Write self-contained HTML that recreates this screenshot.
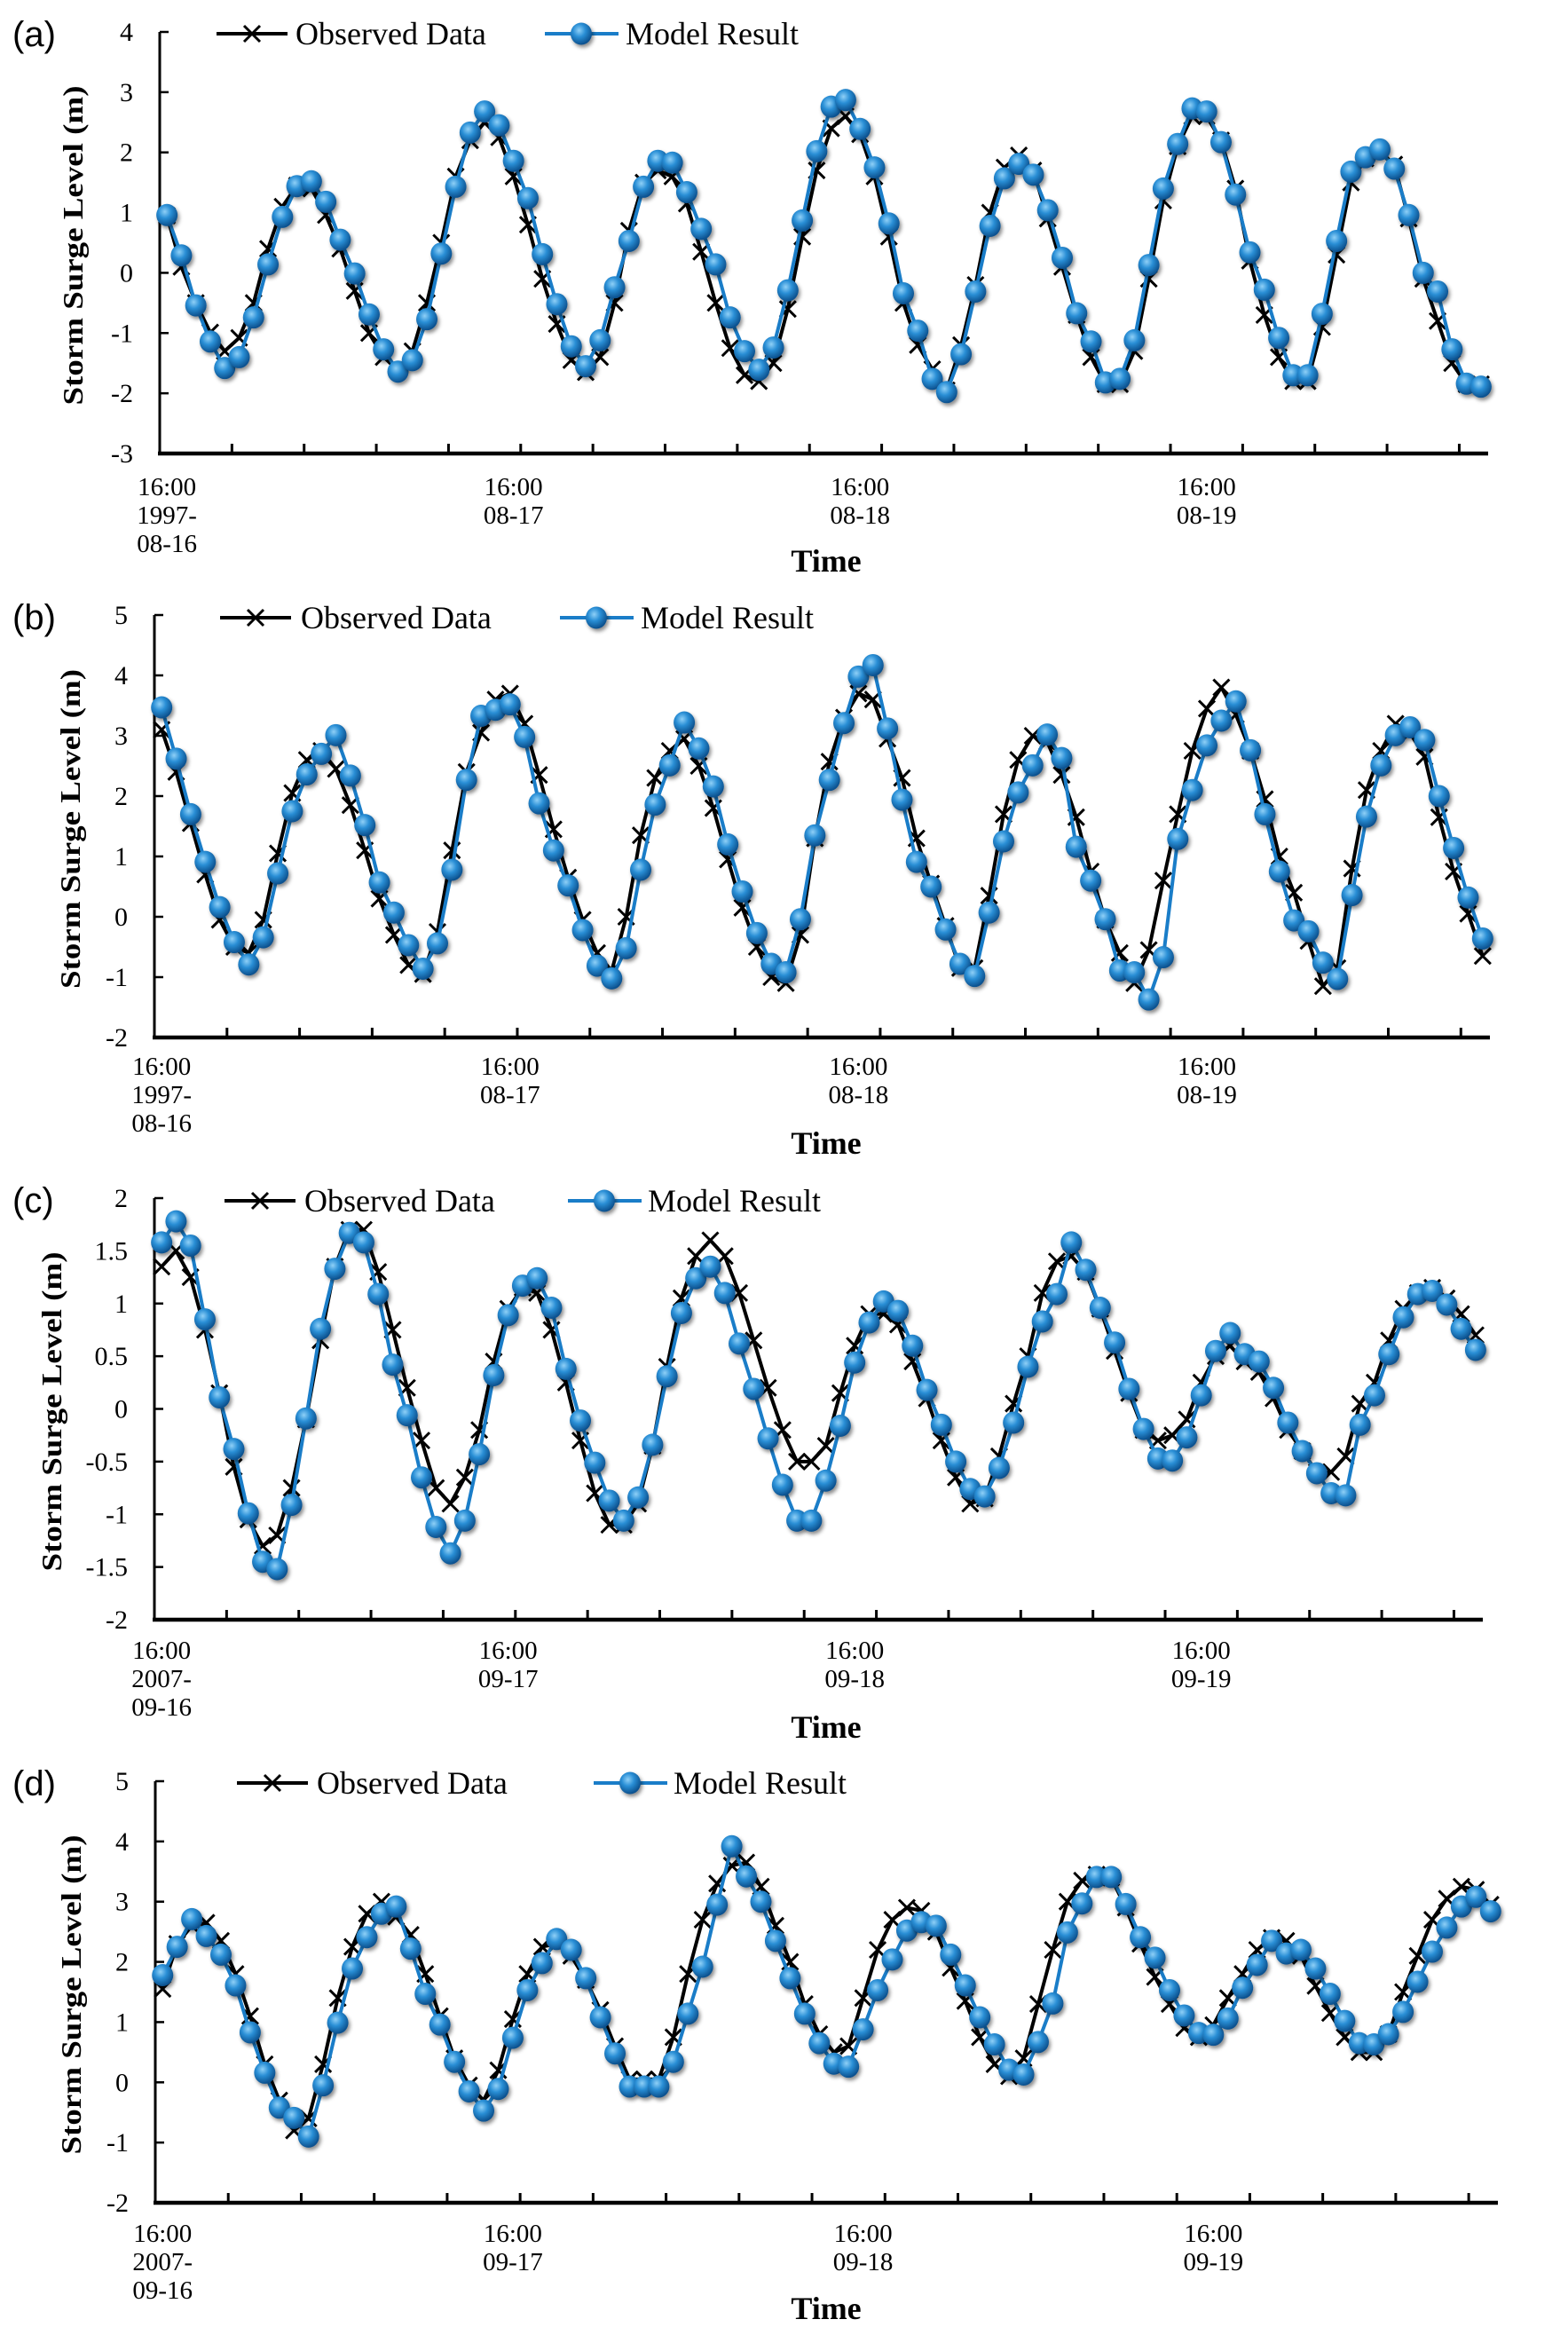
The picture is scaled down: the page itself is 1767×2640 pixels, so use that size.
<!DOCTYPE html>
<html><head><meta charset="utf-8"><title>Storm surge comparison</title>
<style>
html,body{margin:0;padding:0;background:#fff;}
svg{display:block;}
text{font-family:"Liberation Serif","Times New Roman",serif;fill:#000;}
</style></head>
<body>
<svg id="fig" xmlns="http://www.w3.org/2000/svg" width="1767" height="2640" viewBox="0 0 1767 2640">
<defs>
<radialGradient id="ball" cx="40%" cy="35%" r="65%">
<stop offset="0%" stop-color="#8fd0f7"/>
<stop offset="45%" stop-color="#2a8fd6"/>
<stop offset="100%" stop-color="#0b4f8c"/>
</radialGradient>
<filter id="shadow" x="-50%" y="-50%" width="200%" height="200%">
<feDropShadow dx="2" dy="3" stdDeviation="2" flood-color="#000" flood-opacity="0.45"/>
</filter>
</defs>
</svg>
<script>
// ---- data (hourly values, 92 per series) ----
const hourCount = 92;
const obsA = [0.95,0.1,-0.5,-0.99,-1.3,-1.08,-0.5,0.4,1.1,1.45,1.4,0.96,0.4,-0.3,-1.0,-1.4,-1.6,-1.3,-0.5,0.5,1.6,2.2,2.5,2.25,1.6,0.8,-0.1,-0.85,-1.45,-1.65,-1.4,-0.5,0.7,1.5,1.7,1.6,1.15,0.35,-0.5,-1.25,-1.7,-1.8,-1.5,-0.6,0.6,1.7,2.4,2.6,2.3,1.6,0.6,-0.5,-1.2,-1.6,-1.95,-1.2,-0.2,1.0,1.75,1.95,1.7,0.9,0.1,-0.7,-1.4,-1.85,-1.85,-1.3,-0.1,1.2,2.1,2.6,2.6,2.2,1.4,0.2,-0.7,-1.4,-1.8,-1.8,-0.9,0.3,1.5,1.9,2.0,1.8,0.9,-0.1,-0.8,-1.5,-1.85,-1.85];
const modA = [0.96,0.29,-0.54,-1.14,-1.58,-1.40,-0.74,0.14,0.93,1.44,1.52,1.18,0.55,-0.01,-0.69,-1.27,-1.64,-1.45,-0.77,0.32,1.43,2.33,2.68,2.45,1.86,1.24,0.31,-0.52,-1.22,-1.55,-1.12,-0.24,0.53,1.43,1.86,1.83,1.34,0.73,0.14,-0.74,-1.30,-1.61,-1.24,-0.29,0.87,2.02,2.76,2.87,2.39,1.75,0.82,-0.34,-0.96,-1.76,-1.98,-1.35,-0.31,0.78,1.57,1.81,1.63,1.04,0.25,-0.67,-1.14,-1.82,-1.76,-1.12,0.13,1.40,2.14,2.73,2.68,2.17,1.30,0.34,-0.28,-1.08,-1.70,-1.70,-0.68,0.53,1.68,1.92,2.05,1.73,0.96,0.00,-0.31,-1.27,-1.84,-1.89];
const obsB = [3.1,2.4,1.55,0.7,-0.05,-0.5,-0.6,-0.05,1.05,2.05,2.6,2.75,2.45,1.85,1.1,0.3,-0.3,-0.8,-0.95,-0.25,1.1,2.4,3.05,3.6,3.7,3.2,2.35,1.45,0.65,-0.05,-0.6,-0.9,0.0,1.35,2.3,2.75,2.95,2.5,1.8,0.95,0.15,-0.5,-1.0,-1.1,-0.3,1.3,2.57,3.3,3.7,3.6,2.95,2.3,1.3,0.55,-0.15,-0.85,-0.85,0.35,1.7,2.6,3.0,2.9,2.35,1.65,0.75,-0.05,-0.6,-1.1,-0.55,0.6,1.7,2.75,3.45,3.8,3.35,2.75,1.95,1.0,0.4,-0.4,-1.15,-0.85,0.8,2.1,2.75,3.2,3.05,2.65,1.65,0.75,0.05,-0.65];
const modB = [3.47,2.62,1.70,0.91,0.16,-0.42,-0.79,-0.34,0.72,1.75,2.36,2.70,3.01,2.34,1.52,0.57,0.07,-0.47,-0.86,-0.44,0.78,2.27,3.33,3.43,3.52,2.98,1.88,1.10,0.52,-0.22,-0.81,-1.02,-0.52,0.78,1.86,2.51,3.22,2.79,2.16,1.20,0.42,-0.27,-0.78,-0.92,-0.04,1.35,2.27,3.21,3.98,4.17,3.12,1.94,0.91,0.50,-0.21,-0.78,-0.98,0.07,1.25,2.06,2.51,3.02,2.63,1.16,0.60,-0.04,-0.89,-0.92,-1.37,-0.67,1.29,2.10,2.84,3.25,3.57,2.76,1.70,0.75,-0.06,-0.24,-0.76,-1.03,0.36,1.66,2.51,3.01,3.14,2.93,2.00,1.14,0.32,-0.36];
const obsC = [1.35,1.5,1.25,0.75,0.15,-0.55,-1.05,-1.3,-1.2,-0.75,-0.1,0.65,1.35,1.7,1.7,1.3,0.75,0.2,-0.3,-0.75,-0.9,-0.65,-0.2,0.45,0.95,1.15,1.1,0.75,0.25,-0.3,-0.8,-1.1,-1.1,-0.9,-0.35,0.4,1.05,1.45,1.6,1.45,1.1,0.65,0.2,-0.2,-0.5,-0.5,-0.35,0.15,0.6,0.9,0.9,0.8,0.45,0.1,-0.3,-0.65,-0.9,-0.85,-0.45,0.05,0.5,1.1,1.4,1.45,1.3,0.95,0.55,0.15,-0.2,-0.3,-0.25,-0.1,0.25,0.5,0.6,0.45,0.35,0.1,-0.2,-0.4,-0.6,-0.6,-0.45,0.05,0.25,0.65,0.95,1.1,1.15,1.05,0.9,0.7];
const modC = [1.58,1.78,1.55,0.85,0.11,-0.38,-0.99,-1.45,-1.52,-0.91,-0.09,0.76,1.33,1.67,1.58,1.09,0.42,-0.06,-0.65,-1.12,-1.37,-1.06,-0.43,0.32,0.89,1.17,1.24,0.96,0.38,-0.11,-0.51,-0.87,-1.06,-0.84,-0.34,0.31,0.91,1.24,1.35,1.10,0.62,0.19,-0.28,-0.72,-1.06,-1.06,-0.68,-0.16,0.44,0.82,1.02,0.93,0.60,0.18,-0.15,-0.50,-0.76,-0.83,-0.56,-0.13,0.40,0.83,1.09,1.58,1.32,0.96,0.63,0.19,-0.19,-0.47,-0.49,-0.27,0.13,0.55,0.72,0.52,0.45,0.20,-0.13,-0.40,-0.61,-0.80,-0.82,-0.15,0.13,0.52,0.87,1.09,1.12,0.99,0.76,0.56];
const obsD = [1.55,2.3,2.6,2.65,2.35,1.8,1.1,0.3,-0.3,-0.8,-0.6,0.3,1.4,2.25,2.8,3.0,2.75,2.45,1.8,1.1,0.4,-0.05,-0.3,0.2,1.05,1.8,2.25,2.3,2.1,1.7,1.2,0.6,0.05,0.05,0.05,0.75,1.8,2.7,3.3,3.6,3.65,3.25,2.6,2.0,1.3,0.8,0.5,0.6,1.4,2.2,2.7,2.9,2.85,2.5,1.9,1.35,0.75,0.3,0.1,0.4,1.3,2.2,3.0,3.35,3.45,3.4,2.9,2.3,1.75,1.3,0.9,0.75,0.95,1.4,1.8,2.2,2.4,2.35,2.1,1.6,1.15,0.75,0.5,0.5,0.8,1.5,2.1,2.7,3.05,3.25,3.2,2.95];
const modD = [1.78,2.25,2.71,2.43,2.12,1.61,0.83,0.16,-0.42,-0.59,-0.90,-0.05,0.99,1.89,2.41,2.80,2.92,2.22,1.47,0.96,0.34,-0.15,-0.47,-0.11,0.74,1.53,1.98,2.38,2.20,1.73,1.08,0.48,-0.07,-0.07,-0.07,0.34,1.14,1.92,2.95,3.92,3.42,3.00,2.35,1.73,1.14,0.65,0.31,0.26,0.88,1.53,2.04,2.52,2.66,2.60,2.12,1.61,1.08,0.63,0.21,0.13,0.67,1.31,2.49,2.97,3.41,3.41,2.96,2.41,2.07,1.53,1.11,0.82,0.79,1.06,1.57,1.95,2.35,2.14,2.20,1.89,1.47,1.02,0.65,0.63,0.80,1.17,1.67,2.17,2.57,2.92,3.08,2.84];
const yTicksA = [-3,-2,-1,0,1,2,3,4];
const yTicksB = [-2,-1,0,1,2,3,4,5];
const yTicksC = [-2,-1.5,-1,-0.5,0,0.5,1,1.5,2];
const yTicksD = [-2,-1,0,1,2,3,4,5];
const labelHours = [0,24,48,72];
const xLabels1997 = [["16:00","1997-","08-16"],["16:00","08-17"],["16:00","08-18"],["16:00","08-19"]];
const xLabels2007 = [["16:00","2007-","09-16"],["16:00","09-17"],["16:00","09-18"],["16:00","09-19"]];
const seriesNames = ["Observed Data","Model Result"];

const NS = "http://www.w3.org/2000/svg";
const svg = document.getElementById("fig");
function mk(tag, attrs, parent){
  const e = document.createElementNS(NS, tag);
  for (const k in attrs) e.setAttribute(k, attrs[k]);
  (parent||svg).appendChild(e);
  return e;
}
function xMark(g, cx, cy, s){
  const p = mk("path", {d:`M${cx-s},${cy-s}L${cx+s},${cy+s}M${cx-s},${cy+s}L${cx+s},${cy-s}`, stroke:"#000", "stroke-width":3, fill:"none"}, g);
  return p;
}

const panels = [
 {id:"a", x0:180, x1:1677, yTop:36, yBot:511, ticks:yTicksA, obs:obsA, mod:modA, labels:xLabels1997, lblY:558, timeY:644, legY:38, legB:244, legBT:333, legM:614, legMT:705, titleX:93},
 {id:"b", x0:174, x1:1679, yTop:693, yBot:1169, ticks:yTicksB, obs:obsB, mod:modB, labels:xLabels1997, lblY:1211, timeY:1300, legY:696, legB:248, legBT:339, legM:631, legMT:722, titleX:90},
 {id:"c", x0:174, x1:1671, yTop:1350, yBot:1825, ticks:yTicksC, obs:obsC, mod:modC, labels:xLabels2007, lblY:1869, timeY:1958, legY:1353, legB:253, legBT:343, legM:640, legMT:730, titleX:69},
 {id:"d", x0:175, x1:1688, yTop:2007, yBot:2482, ticks:yTicksD, obs:obsD, mod:modD, labels:xLabels2007, lblY:2526, timeY:2613, legY:2009, legB:267, legBT:357, legM:669, legMT:759, titleX:91}
];

panels.forEach(P => {
  const g = mk("g", {});
  
  
  const ymin = P.ticks[0], ymax = P.ticks[P.ticks.length-1];
  const cw = (P.x1 - P.x0) / hourCount;
  const xs = i => P.x0 + cw * (i + 0.5);
  const ys = v => P.yBot - (v - ymin) / (ymax - ymin) * (P.yBot - P.yTop);

  const pl = mk("text", {x:14, y:P.yTop + 16, "font-size":40, style:'font-family:"Liberation Sans",Arial,sans-serif'}, g);
  pl.textContent = "(" + P.id + ")";
  
  

  const yc = (P.yTop + P.yBot) / 2 + 3;
  const yt = mk("text", {x:0, y:0, "font-size":32, "font-weight":"bold", "text-anchor":"middle", transform:`translate(${P.titleX},${yc}) rotate(-90)`, textLength:360, lengthAdjust:"spacingAndGlyphs"}, g);
  yt.textContent = "Storm Surge Level (m)";
  
  

  const ya = mk("line", {x1:P.x0, y1:P.yTop, x2:P.x0, y2:P.yBot + 2, stroke:"#000", "stroke-width":3}, g);
  
  
  P.ticks.forEach(v => {
    const y = ys(v);
    const tk = mk("line", {x1:P.x0, y1:y, x2:P.x0 + 10, y2:y, stroke:"#000", "stroke-width":2.5}, g);
    
    
    const tl = mk("text", {x:P.x0 - 30, y:y + 10, "font-size":30, "text-anchor":"end"}, g);
    tl.textContent = String(v);
    
    
  });

  const xa = mk("line", {x1:P.x0 - 2, y1:P.yBot, x2:P.x1, y2:P.yBot, stroke:"#000", "stroke-width":4.5}, g);
  
  
  for (let k = 5; k < hourCount; k += 5) {
    const x = P.x0 + cw * k;
    const tk = mk("line", {x1:x, y1:P.yBot, x2:x, y2:P.yBot - 11, stroke:"#000", "stroke-width":3}, g);
    
    
  }
  labelHours.forEach((h, j) => {
    P.labels[j].forEach((ln, r) => {
      const t = mk("text", {x:xs(h), y:P.lblY + r * 32, "font-size":29, "text-anchor":"middle"}, g);
      t.textContent = ln;
      
      
    });
  });
  const tt = mk("text", {x:931, y:P.timeY, "font-size":36, "font-weight":"bold", "text-anchor":"middle"}, g);
  tt.textContent = "Time";
  
  

  const gObs = mk("g", {}, g);
  
  
  const ptsO = P.obs.map((v, i) => xs(i).toFixed(1) + "," + ys(v).toFixed(1)).join(" ");
  const lo = mk("polyline", {points:ptsO, fill:"none", stroke:"#000", "stroke-width":4, "stroke-linejoin":"round"}, gObs);
  
  
  P.obs.forEach((v, i) => {
    const m = xMark(gObs, xs(i), ys(v), 9);
    
    
  });

  const gMod = mk("g", {}, g);
  
  
  const ptsM = P.mod.map((v, i) => xs(i).toFixed(1) + "," + ys(v).toFixed(1)).join(" ");
  const lm = mk("polyline", {points:ptsM, fill:"none", stroke:"#1a7dc8", "stroke-width":4, "stroke-linejoin":"round"}, gMod);
  
  
  P.mod.forEach((v, i) => {
    const c = mk("ellipse", {cx:xs(i), cy:ys(v), rx:12, ry:12.5, fill:"url(#ball)", filter:"url(#shadow)"}, gMod);
    
    
  });

  const lg = mk("g", {}, g);
  
  
  const e1 = mk("g", {}, lg);
  
  
  mk("line", {x1:P.legB, y1:P.legY, x2:P.legB + 80, y2:P.legY, stroke:"#000", "stroke-width":4}, e1);
  xMark(e1, P.legB + 40, P.legY, 9);
  const t1 = mk("text", {x:P.legBT, y:P.legY + 12, "font-size":36}, e1);
  t1.textContent = seriesNames[0];
  const e2 = mk("g", {}, lg);
  
  
  mk("line", {x1:P.legM, y1:P.legY, x2:P.legM + 83, y2:P.legY, stroke:"#1a7dc8", "stroke-width":4}, e2);
  mk("ellipse", {cx:P.legM + 41, cy:P.legY, rx:12, ry:12.5, fill:"url(#ball)", filter:"url(#shadow)"}, e2);
  const t2 = mk("text", {x:P.legMT, y:P.legY + 12, "font-size":36}, e2);
  t2.textContent = seriesNames[1];
});
</script>
</body></html>
